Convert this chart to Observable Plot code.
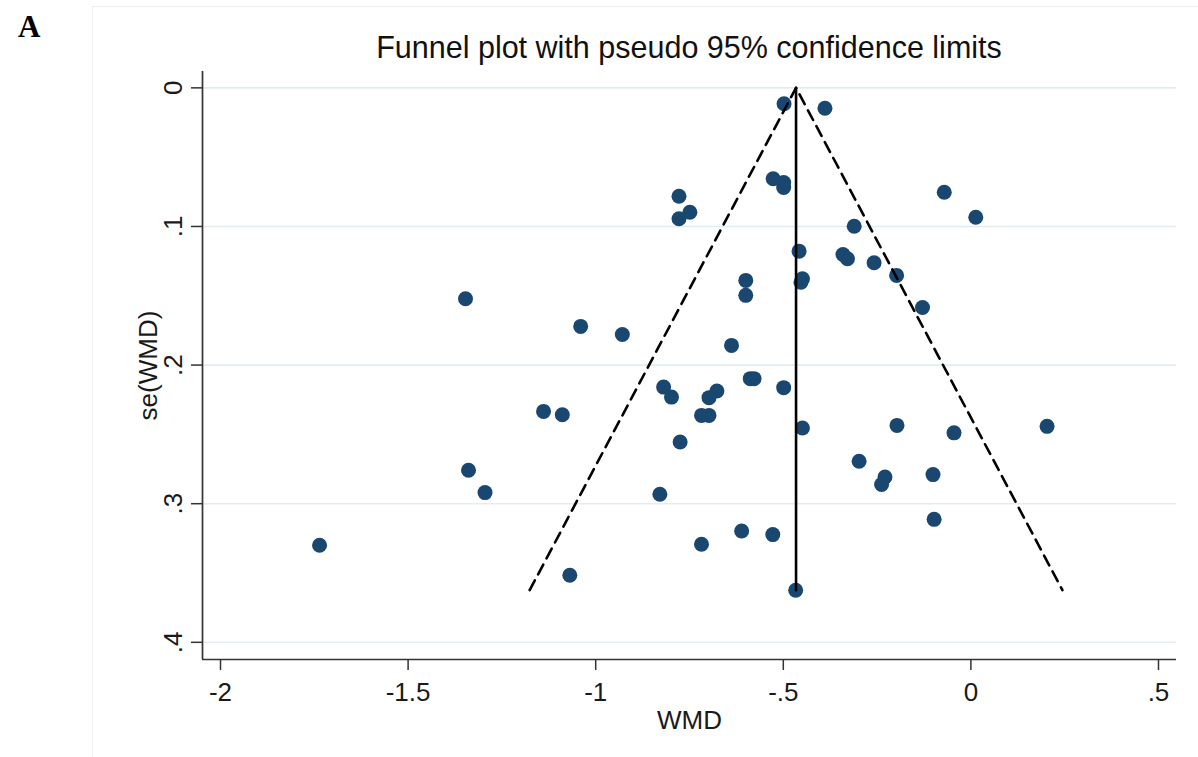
<!DOCTYPE html>
<html>
<head>
<meta charset="utf-8">
<script src="https://cdn.jsdelivr.net/npm/d3@7"></script>
<script src="https://cdn.jsdelivr.net/npm/@observablehq/plot@0.6"></script>
<style>
  html, body { margin: 0; padding: 0; background: #fff; }
  #wrap { position: relative; width: 1198px; height: 757px; overflow: hidden; font-family: "Liberation Sans", Arial, sans-serif; }
  #region { position: absolute; left: 92px; top: 6px; width: 1200px; height: 760px; border-left: 1px solid #eeeeee; border-top: 1px solid #eeeeee; }
  #panel { position: absolute; left: 18px; top: 9px; font-family: "Liberation Serif", "Times New Roman", serif; font-weight: bold; font-size: 31px; color: #000; }
  #title { position: absolute; left: 0; width: 1378px; top: 32px; text-align: center; font-size: 30.5px; color: #111; line-height: 1; }
  #chart { position: absolute; left: 0; top: 0; }
</style>
</head>
<body>
<div id="wrap">
  <div id="region"></div>
  <div id="panel">A</div>
  <div id="title">Funnel plot with pseudo 95% confidence limits</div>
  <div id="chart"></div>
</div>
<script>
// Study estimates: WMD (x) and its standard error se(WMD) (y)
const wmd = [-0.498, -0.389, -0.527, -0.499, -0.499, -0.778, -0.749, -0.778, -0.071, 0.013,
             -0.311, -0.458, -0.341, -0.329, -0.258, -0.198, -0.600, -0.600, -0.449, -0.453,
             -0.129, -1.347, -1.040, -0.929, -0.638, -0.588, -0.819, -0.798, -0.677, -0.698,
             -0.499, -0.718, -0.698, -0.775, -0.449, -0.197, -0.045, 0.203, -0.298, -0.229,
             -0.238, -0.101, -0.098, -1.139, -1.089, -1.339, -1.295, -0.829, -0.718, -0.611,
             -0.528, -0.467, -1.736, -1.069, -0.578];
const se  = [0.0115, 0.0147, 0.0656, 0.0683, 0.0719, 0.0782, 0.0897, 0.0944, 0.0753, 0.0933,
             0.0998, 0.1178, 0.1202, 0.1233, 0.1262, 0.1353, 0.1389, 0.1497, 0.1377, 0.1402,
             0.1585, 0.1521, 0.1721, 0.1779, 0.1858, 0.2098, 0.2159, 0.2231, 0.2187, 0.2235,
             0.2163, 0.2363, 0.2363, 0.2555, 0.2454, 0.2435, 0.2489, 0.2442, 0.2694, 0.2807,
             0.2862, 0.2790, 0.3113, 0.2334, 0.2358, 0.2759, 0.2920, 0.2932, 0.3293, 0.3197,
             0.3223, 0.3624, 0.3300, 0.3516, 0.2098];

// Pooled estimate line and pseudo 95% confidence limits
const pooledX = [-0.466, -0.466];
const pooledY = [0, 0.3624];
const limitX = [-1.176, -0.466, 0.244];
const limitY = [0.3624, 0, 0.3624];

// Axis ticks and labels
const xTicks = [-2, -1.5, -1, -0.5, 0, 0.5];
const xTickLabels = ["-2", "-1.5", "-1", "-.5", "0", ".5"];
const yTicks = [0, 0.1, 0.2, 0.3, 0.4];
const yTickLabels = ["0", ".1", ".2", ".3", ".4"];
const xDomain = [-2.048, 0.548];
const yDomain = [-0.0118, 0.4124];

const points = wmd.map((x, i) => ({x, y: se[i]}));
const pooled = pooledX.map((x, i) => ({x, y: pooledY[i]}));
const limits = limitX.map((x, i) => ({x, y: limitY[i]}));

const chart = Plot.plot({
  width: 1198,
  height: 757,
  marginLeft: 202,
  marginRight: 22,
  marginTop: 71,
  marginBottom: 98,
  style: {fontFamily: "'Liberation Sans', Arial, sans-serif", fontSize: "26px", color: "#1a1a1a", background: "transparent"},
  x: {domain: xDomain},
  y: {domain: yDomain, reverse: true},
  marks: [
    Plot.gridY(yTicks, {stroke: "#e3edf1", strokeOpacity: 1, strokeWidth: 1.6}),
    Plot.dot(points, {x: "x", y: "y", r: 7.5, fill: "#1a476f", stroke: "none"}),
    Plot.line(limits, {x: "x", y: "y", stroke: "#000", strokeWidth: 2.6, strokeDasharray: "11,7"}),
    Plot.line(pooled, {x: "x", y: "y", stroke: "#000", strokeWidth: 2.6}),
    Plot.ruleX([xDomain[0]], {y1: yDomain[0], y2: yDomain[1], stroke: "#333", strokeWidth: 1.7}),
    Plot.ruleY([yDomain[1]], {x1: xDomain[0], x2: xDomain[1], stroke: "#333", strokeWidth: 1.7}),
    Plot.axisX(xTicks, {tickSize: 11, tickPadding: 12, label: null, stroke: "#333", strokeWidth: 1.5,
      tickFormat: d => xTickLabels[xTicks.indexOf(d)]}),
    Plot.axisY(yTicks, {tickSize: 11, tickPadding: 10, tickRotate: -90, label: null, stroke: "#333", strokeWidth: 1.5,
      tickFormat: d => yTickLabels[yTicks.indexOf(d)]}),
    Plot.text(["WMD"], {frameAnchor: "bottom", dy: 69, lineAnchor: "bottom", fontSize: 26, fill: "#1a1a1a"}),
    Plot.text(["se(WMD)"], {frameAnchor: "left", dx: -46, rotate: -90, lineAnchor: "bottom", textAnchor: "middle", fontSize: 26, fill: "#1a1a1a"})
  ]
});
document.getElementById("chart").appendChild(chart);
</script>
</body>
</html>
